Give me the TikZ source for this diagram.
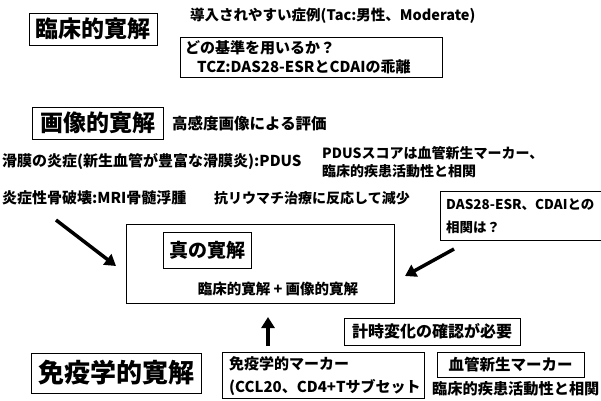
\documentclass[tikz,border=0pt]{standalone}
\usepackage{fontspec}
\setmainfont{Noto Sans CJK JP}
\usetikzlibrary{arrows.meta}
\newcommand{\fsz}[1]{\fontsize{#1}{#1}\selectfont\bfseries}
\begin{document}
\begin{tikzpicture}[x=1pt,y=-1pt,
  box/.style={draw=black, line width=0.9pt, inner sep=0pt, rectangle},
  lbl/.style={inner sep=0pt, anchor=west},
  bigarrow/.style={line width=3.5pt, -{Triangle[length=11pt,width=13pt]}}]
\useasboundingbox (0,0) rectangle (601,400);
% clinical remission
\node[box, font=\fsz{23}, minimum width=128pt, minimum height=32pt] (clin) at (93,29) {臨床的寛解};
\node[lbl, font=\fsz{14.5}] (intro) at (190,16) {導入されやすい症例(Tac:男性、Moderate)};
\node[box, minimum width=262pt, minimum height=40pt] (crit) at (311,57) {};
\node[lbl, font=\fsz{15}] (q) at (185,48) {どの基準を用いるか？};
\node[lbl, font=\fsz{15}] (tcz) at (197,67) {TCZ:DAS28-ESRとCDAIの乖離};
% imaging remission
\node[box, font=\fsz{23}, minimum width=131pt, minimum height=32pt] (img) at (97.5,123) {画像的寛解};
\node[lbl, font=\fsz{15.5}] (eval) at (172,124) {高感度画像による評価};
\node[lbl, font=\fsz{15}] (syn) at (2,161) {滑膜の炎症(新生血管が豊富な滑膜炎):PDUS};
\node[lbl, font=\fsz{14}] (pdus1) at (322,153) {PDUSスコアは血管新生マーカー、};
\node[lbl, font=\fsz{14}] (pdus2) at (322,171) {臨床的疾患活動性と相関};
\node[lbl, font=\fsz{15}] (bone) at (2,198) {炎症性骨破壊:MRI骨髄浮腫};
\node[lbl, font=\fsz{14}] (anti) at (214,198) {抗リウマチ治療に反応して減少};
\node[box, anchor=north west, minimum width=170pt, minimum height=49pt] (das) at (440,191) {};
\node[lbl, font=\fsz{13.5}] (das1) at (446,205) {DAS28-ESR、CDAIとの};
\node[lbl, font=\fsz{13.5}] (das2) at (446,227) {相関は？};
% true remission
\node[box, minimum width=268pt, minimum height=79pt] (main) at (260,263.5) {};
\node[box, font=\fsz{19}, minimum width=88pt, minimum height=36pt] (true) at (207,250) {真の寛解};
\node[inner sep=0pt, font=\fsz{14.5}] (sum) at (278,289) {臨床的寛解 + 画像的寛解};
% arrows
\coordinate (a1s) at (56,220);
\coordinate (a1e) at (116,266);
\coordinate (a2s) at (454,249);
\coordinate (a2e) at (405,276);
\coordinate (a3s) at (268,346);
\coordinate (a3e) at (268,317);
\draw[bigarrow] (a1s) -- (a1e);
\draw[bigarrow] (a2s) -- (a2e);
\draw[bigarrow] (a3s) -- (a3e);
% immunological remission
\node[box, font=\fsz{16}, minimum width=176pt, minimum height=27pt] (time) at (432,331.5) {計時変化の確認が必要};
\node[box, font=\fsz{26}, minimum width=170pt, minimum height=40pt] (imm) at (116,373) {免疫学的寛解};
\node[box, minimum width=202pt, minimum height=46pt] (mark) at (323,375) {};
\node[lbl, font=\fsz{15}] (mark1) at (229,364) {免疫学的マーカー};
\node[lbl, font=\fsz{15}] (mark2) at (229,387) {(CCL20、CD4+Tサブセット};
\node[box, font=\fsz{15.5}, minimum width=147pt, minimum height=25pt] (vasc) at (510.5,364.5) {血管新生マーカー};
\node[lbl, font=\fsz{15.2}] (corr) at (432,389) {臨床的疾患活動性と相関};
\end{tikzpicture}
\end{document}
